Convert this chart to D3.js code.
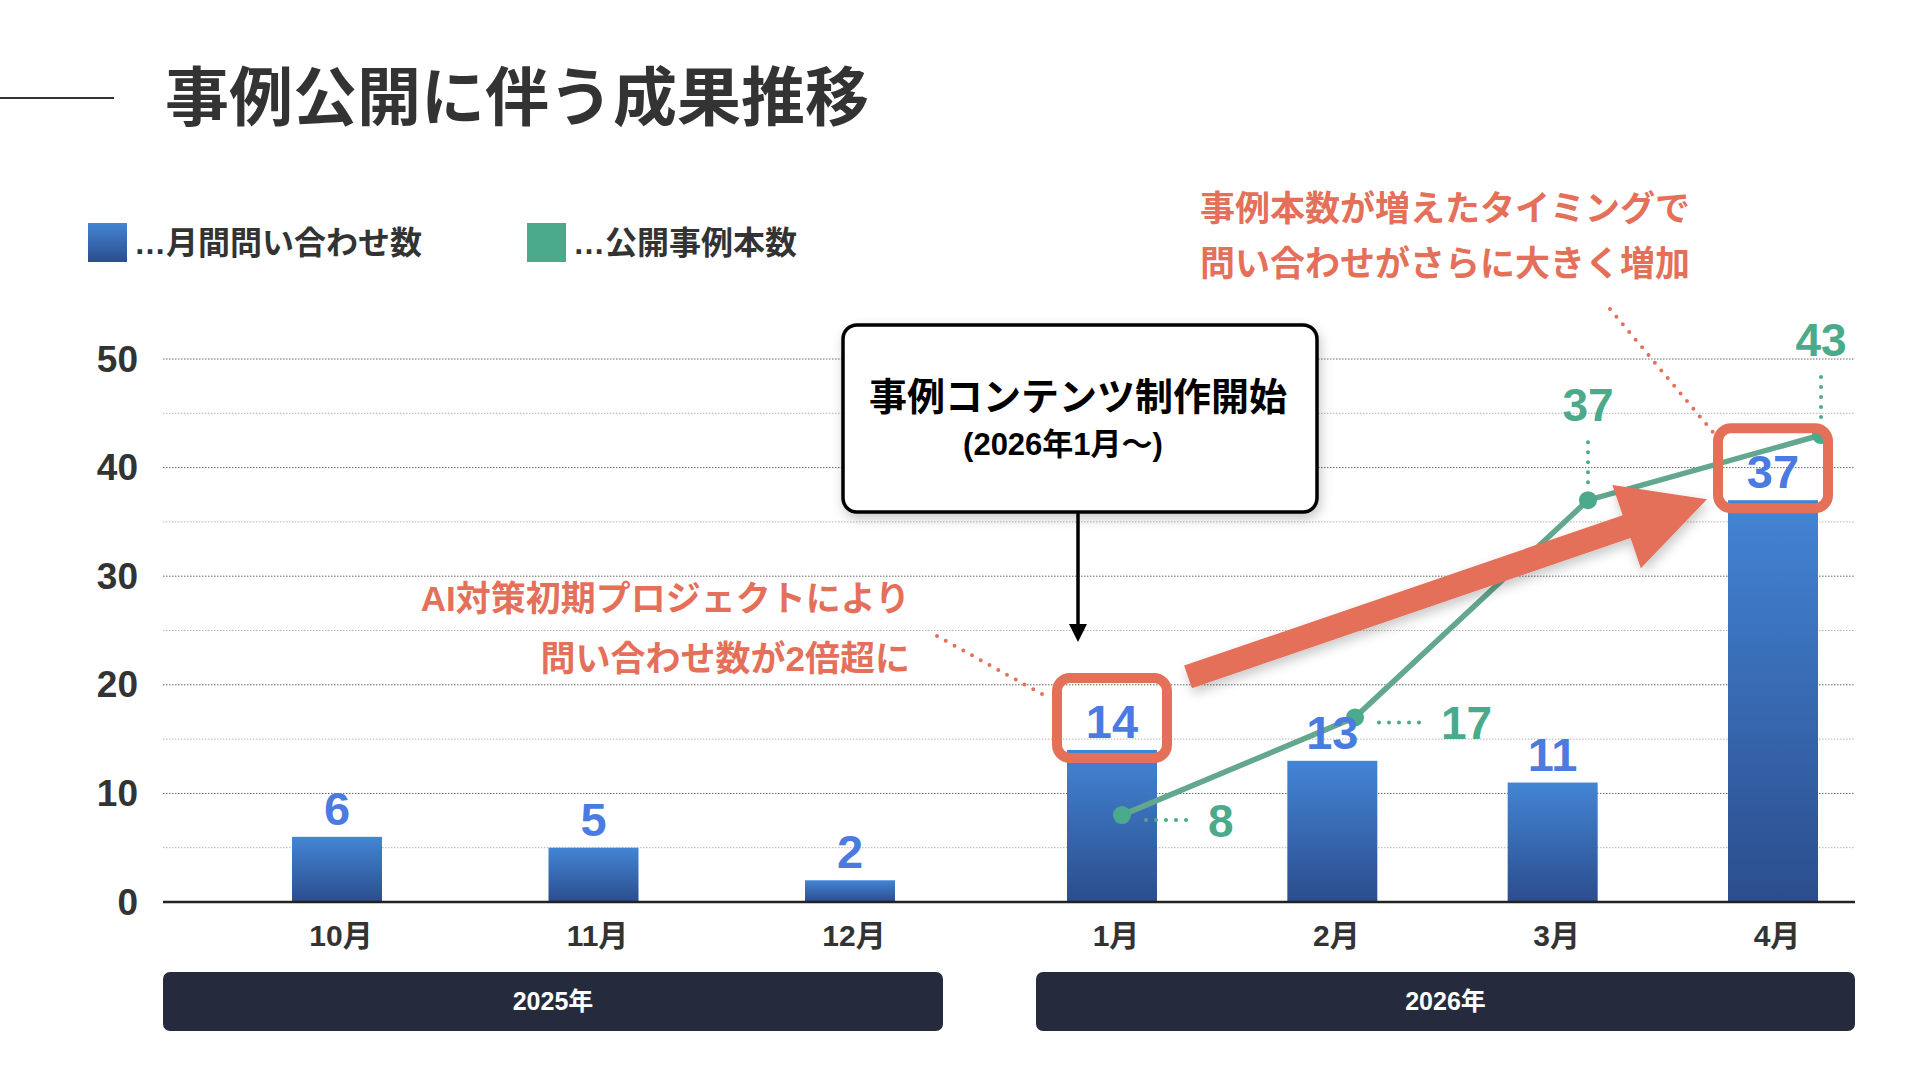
<!DOCTYPE html>
<html>
<meta charset="utf-8">
<script src="https://d3js.org/d3.v7.min.js"></script>
<style>
body { margin: 0; background: #fff; }
text { font-family: 'Liberation Sans', 'Noto Sans CJK JP', sans-serif; font-weight: bold; }
</style>
<body>
<script>
// data
const title = '事例公開に伴う成果推移';
const years = ['2025年', '2026年'];
const months = ['10月', '11月', '12月', '1月', '2月', '3月', '4月'];
const monthYear = ['2025年', '2025年', '2025年', '2026年', '2026年', '2026年', '2026年'];
const inquiries = [6, 5, 2, 14, 13, 11, 37];
const caseMonths = ['1月', '2月', '3月', '4月'];
const caseCounts = [8, 17, 37, 43];
const yTicks = [0, 10, 20, 30, 40, 50];
const highlightMonths = ['1月', '4月'];
const legendLabels = ['…月間問い合わせ数', '…公開事例本数'];
const calloutLines = ['事例コンテンツ制作開始', '(2026年1月〜)'];
const noteLeft = ['AI対策初期プロジェクトにより', '問い合わせ数が2倍超に'];
const noteRight = ['事例本数が増えたタイミングで', '問い合わせがさらに大きく増加'];

const BLUE_TEXT = '#4b7be0';
const GREEN = '#4baa8b';
const RED = '#e5705a';
const DARK = '#333';

const plotLeft = 163, plotRight = 1855;

const svg = d3.select('body').append('svg')
  .attr('width', 1920)
  .attr('height', 1080);

const defs = svg.append('defs');
const grad = defs.append('linearGradient')
  .attr('id', 'barGrad')
  .attr('x1', 0).attr('y1', 0).attr('x2', 0).attr('y2', 1);
grad.append('stop').attr('offset', 0).attr('stop-color', '#4385d5');
grad.append('stop').attr('offset', 1).attr('stop-color', '#2b4d8d');

defs.append('filter').attr('id', 'shadow')
  .attr('x', '-20%').attr('y', '-20%').attr('width', '140%').attr('height', '150%')
  .append('feDropShadow')
  .attr('dx', 2).attr('dy', 5).attr('stdDeviation', 6)
  .attr('flood-color', '#000').attr('flood-opacity', 0.22);

// scales
const y = d3.scaleLinear().domain([0, 50]).range([902, 359]);

const xByYear = {
  '2025年': d3.scalePoint().domain(months.filter((m, i) => monthYear[i] === '2025年')).range([337, 850]),
  '2026年': d3.scalePoint().domain(months.filter((m, i) => monthYear[i] === '2026年')).range([1112, 1773])
};
const xMonth = (m, i) => xByYear[monthYear[i]](m);
const xm = m => xMonth(m, months.indexOf(m));
const yearRange = { '2025年': [163, 943], '2026年': [1036, 1855] };

const xLine = d3.scalePoint().domain(caseMonths).range([1122, 1821]);

const barW = 90;

// title
svg.append('line')
  .attr('x1', 0).attr('x2', 114).attr('y1', 98).attr('y2', 98)
  .attr('stroke', DARK).attr('stroke-width', 2);
svg.append('text')
  .attr('x', 165).attr('y', 98)
  .attr('dominant-baseline', 'central')
  .attr('font-size', 64)
  .attr('fill', DARK)
  .text(title);

// legend
const legendX = [88, 527];
const legendFill = ['url(#barGrad)', GREEN];
legendLabels.forEach((lab, i) => {
  svg.append('rect')
    .attr('x', legendX[i]).attr('y', 223)
    .attr('width', 39).attr('height', 39)
    .attr('fill', legendFill[i]);
  svg.append('text')
    .attr('x', legendX[i] + 46).attr('y', 243)
    .attr('dominant-baseline', 'central')
    .attr('font-size', 32)
    .attr('fill', DARK)
    .text(lab);
});

// gridlines
svg.append('g').selectAll('line')
  .data(y.ticks(10).filter(v => v > 0))
  .enter().append('line')
  .attr('x1', plotLeft).attr('x2', plotRight)
  .attr('y1', d => y(d)).attr('y2', d => y(d))
  .attr('stroke', d => d % 10 === 0 ? '#666' : '#b5b5b5')
  .attr('stroke-width', 1)
  .attr('stroke-dasharray', '1.5,1.5');

// y labels
svg.append('g').selectAll('text')
  .data(yTicks)
  .enter().append('text')
  .attr('x', 138)
  .attr('y', d => y(d))
  .attr('text-anchor', 'end')
  .attr('dominant-baseline', 'central')
  .attr('font-size', 37)
  .attr('fill', DARK)
  .text(d => d);

// bars
svg.append('g').selectAll('rect')
  .data(inquiries)
  .enter().append('rect')
  .attr('x', (d, i) => xMonth(months[i], i) - barW / 2)
  .attr('width', barW)
  .attr('y', d => y(d))
  .attr('height', d => y(0) - y(d))
  .attr('fill', 'url(#barGrad)');

// baseline
svg.append('line')
  .attr('x1', plotLeft).attr('x2', plotRight)
  .attr('y1', y(0)).attr('y2', y(0))
  .attr('stroke', '#222').attr('stroke-width', 2.5);

// month labels
svg.append('g').selectAll('text')
  .data(months)
  .enter().append('text')
  .attr('x', (d, i) => xMonth(d, i) + 4)
  .attr('y', 935)
  .attr('text-anchor', 'middle')
  .attr('dominant-baseline', 'central')
  .attr('font-size', 30)
  .attr('fill', DARK)
  .text(d => d);

// year boxes
years.forEach(yr => {
  const [a, b] = yearRange[yr];
  svg.append('rect')
    .attr('x', a).attr('y', 972)
    .attr('width', b - a).attr('height', 59)
    .attr('rx', 7)
    .attr('fill', '#252b3d');
  svg.append('text')
    .attr('x', (a + b) / 2).attr('y', 1001)
    .attr('text-anchor', 'middle')
    .attr('dominant-baseline', 'central')
    .attr('font-size', 25)
    .attr('fill', '#fff')
    .text(yr);
});

// case line
const pts = caseMonths.map((m, i) => [xLine(m), y(caseCounts[i])]);
svg.append('path')
  .attr('d', d3.line()(pts))
  .attr('fill', 'none')
  .attr('stroke', '#62a78e')
  .attr('stroke-width', 5.5);
svg.append('g').selectAll('circle')
  .data(pts)
  .enter().append('circle')
  .attr('cx', d => d[0]).attr('cy', d => d[1])
  .attr('r', 9)
  .attr('fill', GREEN);

// highlight boxes
svg.append('g').selectAll('rect')
  .data(highlightMonths)
  .enter().append('rect')
  .attr('x', d => xm(d) - 55)
  .attr('y', d => y(inquiries[months.indexOf(d)]) - 72)
  .attr('width', 110)
  .attr('height', 80)
  .attr('rx', 13)
  .attr('fill', 'none')
  .attr('stroke', RED)
  .attr('stroke-width', 10);

// bar value labels
svg.append('g').selectAll('text')
  .data(inquiries)
  .enter().append('text')
  .attr('x', (d, i) => xMonth(months[i], i))
  .attr('y', d => y(d) - 12)
  .attr('text-anchor', 'middle')
  .attr('font-size', 47)
  .attr('fill', BLUE_TEXT)
  .text(d => d);

// case labels with dotted leaders
const dotted = (g, x1, y1, x2, y2, color) => g.append('line')
  .attr('x1', x1).attr('y1', y1).attr('x2', x2).attr('y2', y2)
  .attr('stroke', color).attr('stroke-width', 4)
  .attr('stroke-linecap', 'round')
  .attr('stroke-dasharray', '0,10');

const lg = svg.append('g');
pts.forEach(([px, py], i) => {
  if (i < 2) {
    dotted(lg, px + 24, py + 5, px + 70, py + 5, GREEN);
    lg.append('text')
      .attr('x', px + 86).attr('y', py + 22)
      .attr('font-size', 46)
      .attr('fill', GREEN)
      .text(caseCounts[i]);
  } else {
    dotted(lg, px, py - 18, px, py - 60, GREEN);
    lg.append('text')
      .attr('x', px).attr('y', py - 79)
      .attr('text-anchor', 'middle')
      .attr('font-size', 46)
      .attr('fill', GREEN)
      .text(caseCounts[i]);
  }
});

// big red arrow from Jan box to Apr box
const tail = [xm('1月') + 76, y(inquiries[3]) - 73];
const tip = [xm('4月') - 66, y(inquiries[6]) - 1];
const len = Math.hypot(tip[0] - tail[0], tip[1] - tail[1]);
const u = [(tip[0] - tail[0]) / len, (tip[1] - tail[1]) / len];
const n = [-u[1], u[0]];
const sw = 12, hw = 44, hl = 85;
const base = [tip[0] - u[0] * hl, tip[1] - u[1] * hl];
const off = (p, k) => [p[0] + n[0] * k, p[1] + n[1] * k];
svg.append('polygon')
  .attr('points', [off(tail, sw), off(base, sw), off(base, hw), tip, off(base, -hw), off(base, -sw), off(tail, -sw)].map(p => p.join(',')).join(' '))
  .attr('fill', RED)
  .attr('filter', 'url(#shadow)');

// callout box
svg.append('rect')
  .attr('x', 843).attr('y', 325)
  .attr('width', 474).attr('height', 187)
  .attr('rx', 14)
  .attr('fill', '#fff')
  .attr('stroke', '#000')
  .attr('stroke-width', 3.5)
  .attr('filter', 'url(#shadow)');
svg.append('text')
  .attr('x', 1078).attr('y', 397)
  .attr('text-anchor', 'middle')
  .attr('dominant-baseline', 'central')
  .attr('font-size', 38)
  .attr('fill', '#000')
  .text(calloutLines[0]);
svg.append('text')
  .attr('x', 1063).attr('y', 444)
  .attr('text-anchor', 'middle')
  .attr('dominant-baseline', 'central')
  .attr('font-size', 31)
  .attr('fill', '#000')
  .text(calloutLines[1]);
svg.append('line')
  .attr('x1', 1078).attr('x2', 1078)
  .attr('y1', 512).attr('y2', 626)
  .attr('stroke', '#000').attr('stroke-width', 3.5);
svg.append('polygon')
  .attr('points', '1069,624 1087,624 1078,642')
  .attr('fill', '#000');

// red notes
noteLeft.forEach((t, i) => {
  svg.append('text')
    .attr('x', 910).attr('y', 598 + i * 60)
    .attr('text-anchor', 'end')
    .attr('dominant-baseline', 'central')
    .attr('font-size', 35)
    .attr('fill', RED)
    .text(t);
});
noteRight.forEach((t, i) => {
  svg.append('text')
    .attr('x', 1200).attr('y', 208 + i * 55)
    .attr('dominant-baseline', 'central')
    .attr('font-size', 35)
    .attr('fill', RED)
    .text(t);
});
dotted(svg, 937, 636, 1049, 698, RED);
dotted(svg, 1610, 309, 1717, 437, RED);
</script>
</body>
</html>
